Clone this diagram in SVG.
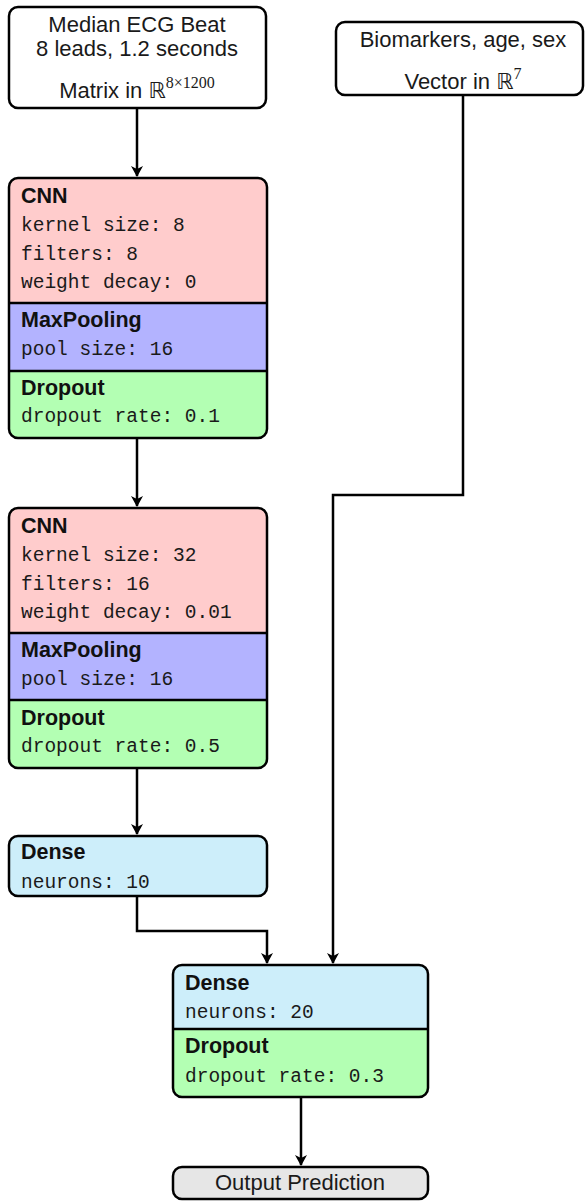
<svg xmlns="http://www.w3.org/2000/svg" width="585" height="1201" viewBox="0 0 585 1201">
<style>
.box{stroke:#000;stroke-width:2.5}
.div{stroke:#000;stroke-width:2.5}
.sans{font-family:"Liberation Sans","DejaVu Sans",sans-serif;font-size:22px;fill:#1a1a1a}
.bold{font-family:"Liberation Sans","DejaVu Sans",sans-serif;font-size:21.5px;font-weight:bold;fill:#111}
.mono{font-family:"Liberation Mono","DejaVu Sans Mono",monospace;font-size:19.5px;fill:#1a1a1a}
.sup{font-family:"Liberation Serif",serif;font-size:16px}
.bb{font-family:"DejaVu Sans",sans-serif}
.conn{fill:none;stroke:#000;stroke-width:2.5}
.cnn{fill:#ffcccc}.pool{fill:#b3b3ff}.drop{fill:#b3ffb3}.dense{fill:#cdeefa}.out{fill:#e6e6e6}
</style>
<defs>
<marker id="arr" markerWidth="12" markerHeight="12" refX="10" refY="6" orient="auto" markerUnits="userSpaceOnUse">
<path d="M0,0 L11,6 L0,12 L3,6 Z" fill="#000"/>
</marker>
<clipPath id="c1"><rect x="9" y="178" width="258" height="260" rx="9"/></clipPath>
<clipPath id="c2"><rect x="9" y="508" width="258" height="260" rx="9"/></clipPath>
<clipPath id="c3"><rect x="173" y="965" width="255" height="132" rx="9"/></clipPath>
</defs>

<g id="connectors">
<path class="conn" d="M137,108 V176" marker-end="url(#arr)"/>
<path class="conn" d="M137,438 V506" marker-end="url(#arr)"/>
<path class="conn" d="M137,768 V834" marker-end="url(#arr)"/>
<path class="conn" d="M137,896 V931 H267 V963" marker-end="url(#arr)"/>
<path class="conn" d="M463,95 V495 H333 V963" marker-end="url(#arr)"/>
<path class="conn" d="M301,1097 V1165" marker-end="url(#arr)"/>
</g>

<g id="input-ecg">
<rect class="box" x="9" y="7" width="257" height="101" rx="9" fill="#fff"/>
<text class="sans" x="137" y="32" text-anchor="middle">Median ECG Beat</text>
<text class="sans" x="137" y="56" text-anchor="middle">8 leads, 1.2 seconds</text>
<text class="sans" x="137" y="98" text-anchor="middle">Matrix in <tspan class="bb">ℝ</tspan><tspan class="sup" dy="-10">8×1200</tspan></text>
</g>

<g id="input-bio">
<rect class="box" x="336" y="22" width="247" height="73" rx="9" fill="#fff"/>
<text class="sans" x="463" y="47" text-anchor="middle">Biomarkers, age, sex</text>
<text class="sans" x="463" y="89" text-anchor="middle">Vector in <tspan class="bb">ℝ</tspan><tspan class="sup" dy="-10">7</tspan></text>
</g>

<g id="block1">
<g clip-path="url(#c1)">
<rect class="cnn" x="9" y="178" width="258" height="125"/>
<rect class="pool" x="9" y="303" width="258" height="68"/>
<rect class="drop" x="9" y="371" width="258" height="67"/>
</g>
<line class="div" x1="9" y1="303" x2="267" y2="303"/>
<line class="div" x1="9" y1="371" x2="267" y2="371"/>
<rect class="box" x="9" y="178" width="258" height="260" rx="9" fill="none"/>
<text class="bold" x="21" y="203">CNN</text>
<text class="mono" x="21" y="231">kernel size: 8</text>
<text class="mono" x="21" y="260">filters: 8</text>
<text class="mono" x="21" y="288">weight decay: 0</text>
<text class="bold" x="21" y="327">MaxPooling</text>
<text class="mono" x="21" y="355">pool size: 16</text>
<text class="bold" x="21" y="395">Dropout</text>
<text class="mono" x="21" y="422">dropout rate: 0.1</text>
</g>

<g id="block2">
<g clip-path="url(#c2)">
<rect class="cnn" x="9" y="508" width="258" height="125"/>
<rect class="pool" x="9" y="633" width="258" height="67"/>
<rect class="drop" x="9" y="700" width="258" height="68"/>
</g>
<line class="div" x1="9" y1="633" x2="267" y2="633"/>
<line class="div" x1="9" y1="700" x2="267" y2="700"/>
<rect class="box" x="9" y="508" width="258" height="260" rx="9" fill="none"/>
<text class="bold" x="21" y="533">CNN</text>
<text class="mono" x="21" y="561">kernel size: 32</text>
<text class="mono" x="21" y="590">filters: 16</text>
<text class="mono" x="21" y="618">weight decay: 0.01</text>
<text class="bold" x="21" y="657">MaxPooling</text>
<text class="mono" x="21" y="685">pool size: 16</text>
<text class="bold" x="21" y="725">Dropout</text>
<text class="mono" x="21" y="752">dropout rate: 0.5</text>
</g>

<g id="dense1">
<rect class="box dense" x="9" y="836" width="258" height="60" rx="9"/>
<text class="bold" x="21" y="859">Dense</text>
<text class="mono" x="21" y="888">neurons: 10</text>
</g>

<g id="block3">
<g clip-path="url(#c3)">
<rect class="dense" x="173" y="965" width="255" height="64"/>
<rect class="drop" x="173" y="1029" width="255" height="68"/>
</g>
<line class="div" x1="173" y1="1029" x2="428" y2="1029"/>
<rect class="box" x="173" y="965" width="255" height="132" rx="9" fill="none"/>
<text class="bold" x="185" y="990">Dense</text>
<text class="mono" x="185" y="1018">neurons: 20</text>
<text class="bold" x="185" y="1053">Dropout</text>
<text class="mono" x="185" y="1082">dropout rate: 0.3</text>
</g>

<g id="output">
<rect class="box out" x="173" y="1167" width="255" height="32" rx="9"/>
<text class="sans" x="300" y="1190" text-anchor="middle">Output Prediction</text>
</g>
</svg>
